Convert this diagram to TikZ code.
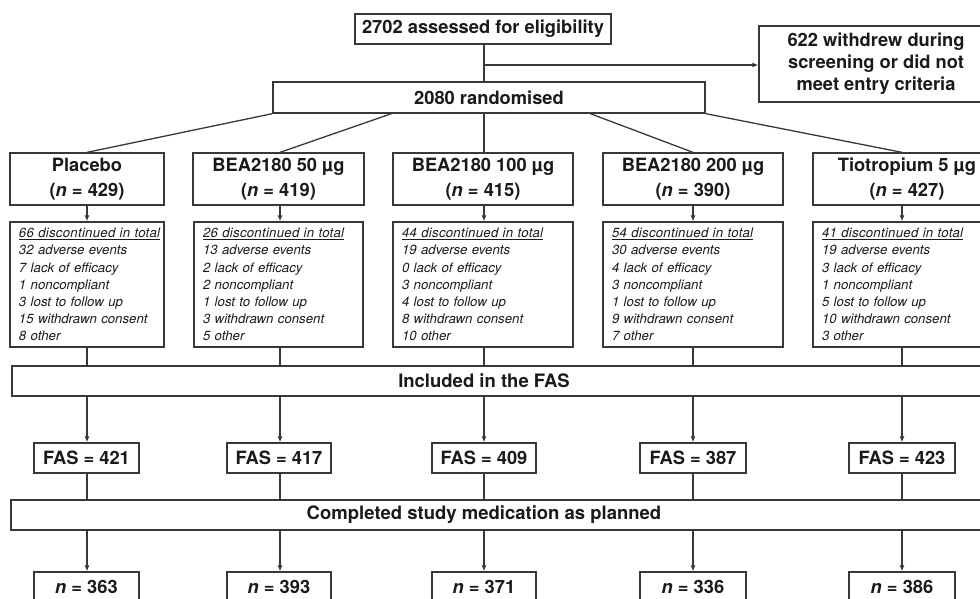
\documentclass[tikz,border=0pt]{standalone}
\usepackage{fontspec}
\setmainfont{TeX Gyre Heros}
\usetikzlibrary{arrows.meta,calc}
\definecolor{lc}{HTML}{383838}
\definecolor{tc}{HTML}{1A1A1A}
\newcommand{\disctot}[1]{\underline{\addfontfeature{LetterSpace=2}#1}}
\begin{document}
\begin{tikzpicture}[x=1pt,y=-1pt,
  every node/.style={text=tc},
  box/.style={draw=lc, line width=1.3pt, rectangle, inner sep=0pt, align=center,
    font=\fontsize{18.3}{22}\selectfont\bfseries},
  armbox/.style={box, minimum height=52pt, font=\fontsize{18.3}{24.5}\selectfont\bfseries},
  discbox/.style={draw=lc, line width=1.3pt, rectangle, inner xsep=9pt, inner ysep=0pt,
    minimum height=125pt, align=left, font=\fontsize{13.2}{17.2}\selectfont\itshape},
  smallbox/.style={box, minimum height=30pt},
  bartext/.style={font=\fontsize{18.5}{22}\selectfont\bfseries},
  conn/.style={draw=lc, line width=1.3pt},
  arr/.style={conn, -{Latex[length=6pt,width=5pt]}}
]
\useasboundingbox (0,0) rectangle (980,598);
\clip (0,0) rectangle (980,598);

% column coordinates
\coordinate (c1) at (87,0);
\coordinate (c2) at (280,0);
\coordinate (c3) at (484,0);
\coordinate (c4) at (693,0);
\coordinate (c5) at (902,0);

% top
\node[smallbox, minimum width=256pt] (top) at (483,29) {2702 assessed for eligibility};
\node[box, minimum width=234pt, minimum height=76pt] (wd) at (876,64)
  {622 withdrew during\\screening or did not\\meet entry criteria};
\node[box, minimum width=432pt, minimum height=31pt] (rand) at (489,97.5) {2080 randomised};

% arms
\node[armbox, minimum width=154pt] (a1) at (87,179) {Placebo\\(\textit{n} = 429)};
\node[armbox, minimum width=171pt] (a2) at (278.5,179) {BEA2180 50 µg\\(\textit{n} = 419)};
\node[armbox, minimum width=180pt] (a3) at (483,179) {BEA2180 100 µg\\(\textit{n} = 415)};
\node[armbox, minimum width=180pt] (a4) at (693,179) {BEA2180 200 µg\\(\textit{n} = 390)};
\node[armbox, minimum width=188pt] (a5) at (907,179) {Tiotropium 5 µg\\(\textit{n} = 427)};

% discontinuation boxes
\node[discbox, text width=136pt] (d1) at (87,284.5)
  {\disctot{66 discontinued in total}\\32 adverse events\\7 lack of efficacy\\1 noncompliant\\3 lost to follow up\\15 withdrawn consent\\8 other};
\node[discbox, text width=151pt] (d2) at (278.5,284.5)
  {\disctot{26 discontinued in total}\\13 adverse events\\2 lack of efficacy\\2 noncompliant\\1 lost to follow up\\3 withdrawn consent\\5 other};
\node[discbox, text width=162pt] (d3) at (483,284.5)
  {\disctot{44 discontinued in total}\\19 adverse events\\0 lack of efficacy\\3 noncompliant\\4 lost to follow up\\8 withdrawn consent\\10 other};
\node[discbox, text width=162pt] (d4) at (693,284.5)
  {\disctot{54 discontinued in total}\\30 adverse events\\4 lack of efficacy\\3 noncompliant\\1 lost to follow up\\9 withdrawn consent\\7 other};
\node[discbox, text width=170pt] (d5) at (907,284.5)
  {\disctot{41 discontinued in total}\\19 adverse events\\3 lack of efficacy\\1 noncompliant\\5 lost to follow up\\10 withdrawn consent\\3 other};

% bars
\node[smallbox, minimum width=988pt] (fasbar) at (506,381) {};
\node[bartext] (fastxt) at (484,381) {Included in the FAS};
\node[smallbox, minimum width=989pt] (compbar) at (505.5,515) {};
\node[bartext] (comptxt) at (484,515) {Completed study medication as planned};

% FAS boxes
\node[smallbox, minimum width=105pt] (f1) at (86.5,458) {FAS = 421};
\node[smallbox, minimum width=104pt] (f2) at (279,458) {FAS = 417};
\node[smallbox, minimum width=104pt] (f3) at (484,458) {FAS = 409};
\node[smallbox, minimum width=106pt] (f4) at (693,458) {FAS = 387};
\node[smallbox, minimum width=106pt] (f5) at (902,458) {FAS = 423};

% completed boxes
\node[smallbox, minimum width=105pt] (n1) at (86.5,587) {\textit{n} = 363};
\node[smallbox, minimum width=104pt] (n2) at (279,587) {\textit{n} = 393};
\node[smallbox, minimum width=104pt] (n3) at (484,587) {\textit{n} = 371};
\node[smallbox, minimum width=106pt] (n4) at (693,587) {\textit{n} = 336};
\node[smallbox, minimum width=106pt] (n5) at (902,587) {\textit{n} = 386};

% top connectors
\draw[conn] (top.south -| c3) -- (rand.north -| c3);
\coordinate (br) at (484,65);
\draw[arr] (br) -- (br -| wd.west);

% randomisation branches
\draw[conn] (rand.south west) -- (a1.north);
\draw[conn] ($(rand.south west)!0.275!(rand.south east)$) -- (a2.north -| c2);
\draw[conn] (rand.south -| c3) -- (a3.north -| c3);
\draw[conn] ($(rand.south west)!0.734!(rand.south east)$) -- (a4.north);
\draw[conn] (rand.south east) -- (a5.north -| c5);

% per-column connectors
\foreach \i in {1,...,5}{
  \draw[arr] (a\i.south -| c\i) -- (d\i.north -| c\i);
  \draw[conn] (d\i.south -| c\i) -- (fasbar.north -| c\i);
  \draw[arr] (fasbar.south -| c\i) -- (f\i.north -| c\i);
  \draw[conn] (f\i.south -| c\i) -- (compbar.north -| c\i);
  \draw[arr] (compbar.south -| c\i) -- (n\i.north -| c\i);
}
\end{tikzpicture}
\end{document}
